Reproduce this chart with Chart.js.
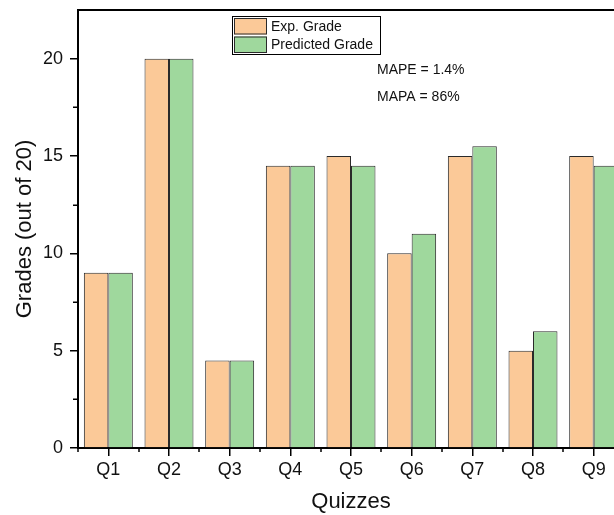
<!DOCTYPE html>
<html>
<head>
<meta charset="utf-8">
<script src="https://cdn.jsdelivr.net/npm/chart.js@4.4.1/dist/chart.umd.min.js"></script>
<style>
  html, body { margin: 0; padding: 0; background: #fff; overflow: hidden; }
  #wrap { width: 640px; height: 515px; }
</style>
</head>
<body>
<div id="wrap"><canvas id="c" width="640" height="515"></canvas></div>
<script>
const categories = ['Q1', 'Q2', 'Q3', 'Q4', 'Q5', 'Q6', 'Q7', 'Q8', 'Q9'];
const expGrade = [9, 20, 4.5, 14.5, 15, 10, 15, 5, 15];
const predictedGrade = [9, 20, 4.5, 14.5, 14.5, 11, 15.5, 6, 14.5];
const yMajorTicks = [0, 5, 10, 15, 20];
const yMinorTicks = [2.5, 7.5, 12.5, 17.5];
const annotations = ['MAPE = 1.4%', 'MAPA = 86%'];

const FONT = "'Liberation Sans', Arial, sans-serif";
const ORANGE = 'rgb(251,201,152)';
const GREEN = 'rgb(159,216,157)';
const EDGE = '#2a2a2a';

const decorPlugin = {
  id: 'decor',
  afterDraw(chart) {
    const ctx = chart.ctx;
    const a = chart.chartArea;
    const xs = chart.scales.x, ys = chart.scales.y;
    ctx.save();
    // frame top + right
    ctx.strokeStyle = '#000';
    ctx.lineWidth = 2;
    ctx.beginPath();
    ctx.moveTo(a.left - 1, a.top);
    ctx.lineTo(a.right, a.top);
    ctx.lineTo(a.right, a.bottom);
    ctx.stroke();
    // minor ticks y
    ctx.lineWidth = 1.5;
    ctx.beginPath();
    yMinorTicks.forEach(v => {
      const y = Math.round(ys.getPixelForValue(v)) + 0.25;
      ctx.moveTo(a.left - 5, y);
      ctx.lineTo(a.left, y);
    });
    // minor ticks x at category boundaries
    for (let i = 0; i <= categories.length; i++) {
      const x = Math.round(xs.getPixelForValue(i - 0.5));
      ctx.moveTo(x, a.bottom);
      ctx.lineTo(x, a.bottom + 4);
    }
    ctx.stroke();
    // legend
    const lx = 232, ly = 16, lw = 148, lh = 38;
    ctx.fillStyle = '#fff';
    ctx.fillRect(lx, ly, lw, lh);
    ctx.lineWidth = 1;
    ctx.strokeStyle = '#000';
    ctx.strokeRect(lx + 0.5, ly + 0.5, lw, lh);
    ctx.font = '14px ' + FONT;
    ctx.textBaseline = 'middle';
    ctx.textAlign = 'left';
    chart.data.datasets.forEach((ds, i) => {
      const sy = ly + 2 + i * 18.5;
      ctx.fillStyle = ds.backgroundColor;
      ctx.fillRect(lx + 2, sy, 33, 16.5);
      ctx.strokeStyle = EDGE;
      ctx.strokeRect(lx + 2.5, sy + 0.5, 32, 15.5);
      ctx.fillStyle = '#111';
      ctx.fillText(ds.label, lx + 39, sy + 9);
    });
    // annotations
    ctx.textBaseline = 'alphabetic';
    ctx.fillStyle = '#111';
    ctx.fillText(annotations[0], 377, 74);
    ctx.fillText(annotations[1], 377, 101);
    ctx.restore();
  }
};

new Chart(document.getElementById('c'), {
  type: 'bar',
  data: {
    labels: categories,
    datasets: [
      { label: 'Exp. Grade', data: expGrade, backgroundColor: ORANGE, borderColor: EDGE, borderWidth: 1, borderSkipped: 'bottom' },
      { label: 'Predicted Grade', data: predictedGrade, backgroundColor: GREEN, borderColor: EDGE, borderWidth: 1, borderSkipped: 'bottom' }
    ]
  },
  options: {
    responsive: false,
    animation: false,
    layout: { padding: { top: 10, right: 16, bottom: 0, left: 0 } },
    datasets: { bar: { barPercentage: 1, categoryPercentage: 0.807 } },
    plugins: { legend: { display: false }, tooltip: { enabled: false } },
    scales: {
      x: {
        offset: true,
        grid: { offset: false, drawOnChartArea: false, drawTicks: true, tickLength: 8, color: '#000', lineWidth: 1.5 },
        border: { display: true, color: '#000', width: 2 },
        ticks: { color: '#111', font: { family: FONT, size: 18 }, padding: 3, maxRotation: 0 },
        title: { display: true, text: 'Quizzes', color: '#111', font: { family: FONT, size: 22 }, padding: { top: 0, bottom: 0 } },
        afterFit(scale) { scale.height = 67; scale.paddingLeft = 0; scale.paddingRight = 0; }
      },
      y: {
        min: 0, max: 22.5,
        afterBuildTicks(scale) { scale.ticks = yMajorTicks.map(v => ({ value: v })); },
        grid: { drawOnChartArea: false, drawTicks: true, tickLength: 8, color: '#000', lineWidth: 1.5 },
        border: { display: true, color: '#000', width: 2 },
        ticks: { color: '#111', font: { family: FONT, size: 18 }, padding: 7 },
        title: { display: true, text: 'Grades (out of 20)', color: '#111', font: { family: FONT, size: 22 }, padding: { top: 12, bottom: 0 } },
        afterFit(scale) { scale.width = 78; scale.paddingTop = 0; scale.paddingBottom = 0; }
      }
    }
  },
  plugins: [decorPlugin]
});
</script>
</body>
</html>
